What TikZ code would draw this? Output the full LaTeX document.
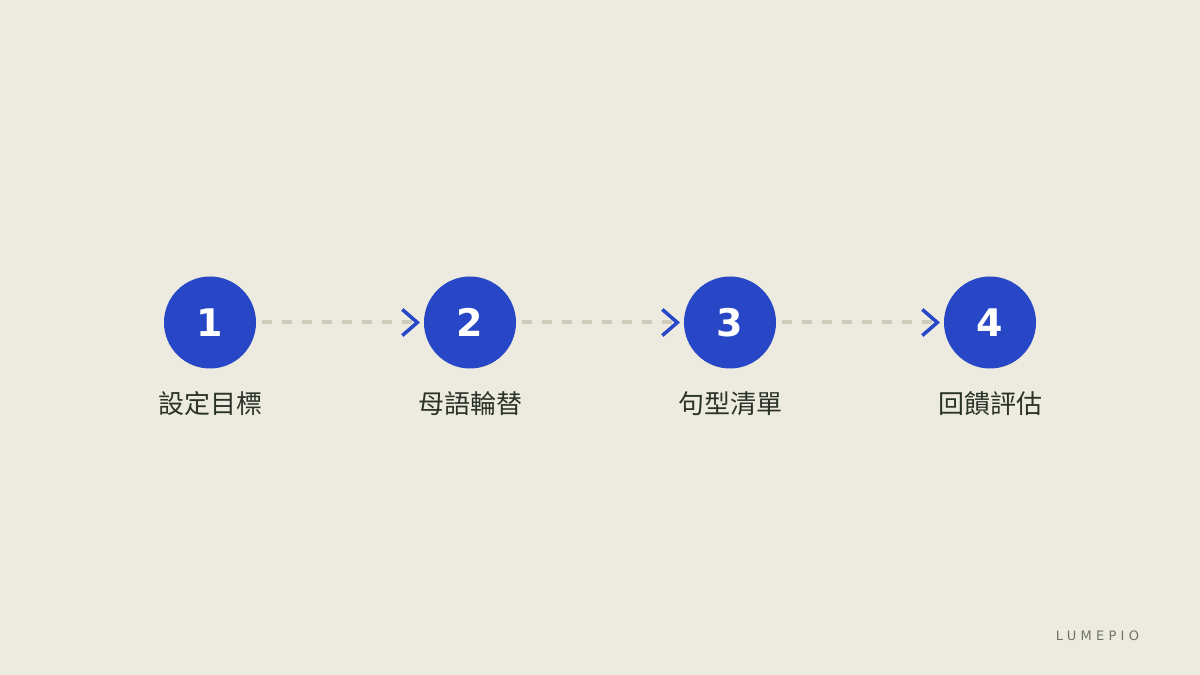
\documentclass[tikz,border=0pt]{standalone}
\usepackage{fontspec}
\setmainfont{DejaVu Sans}
\newfontfamily\cjk{Noto Sans CJK TC}
\newfontfamily\brand[LetterSpace=33]{DejaVu Sans}
\usetikzlibrary{positioning,arrows.meta}
\definecolor{paper}{HTML}{EDEBE0}
\definecolor{stageblue}{HTML}{2747C7}
\definecolor{dashgrey}{HTML}{D0CCBC}
\definecolor{ink}{HTML}{2B3328}
\definecolor{brandgrey}{HTML}{6E7565}
\tikzset{
  stage/.style={circle,fill=stageblue,text=white,minimum size=92pt,inner sep=0pt,
    outer sep=0pt,font=\fontsize{38}{38}\selectfont\bfseries},
  lbl/.style={text=ink,inner sep=0pt,font=\cjk\fontsize{26}{26}\selectfont},
  flow/.style={draw=dashgrey,line width=4pt,dash pattern=on 10pt off 10pt,
    shorten <=6pt,shorten >=4pt,
    -{Straight Barb[length=15pt,width=26pt,line width=3.5pt,color=stageblue]}},
}
\begin{document}
\begin{tikzpicture}[x=1pt,y=1pt]
\fill[paper] (0,0) rectangle (1200,675);
\useasboundingbox (0,0) rectangle (1200,675);
\node[stage] (s1) at (210,352.5) {1};
\node[stage,right=168pt of s1] (s2) {2};
\node[stage,right=168pt of s2] (s3) {3};
\node[stage,right=168pt of s3] (s4) {4};
\node[lbl,below=22.5pt of s1] (t1) {設定目標};
\node[lbl,below=22.5pt of s2] (t2) {母語輪替};
\node[lbl,below=22.5pt of s3] (t3) {句型清單};
\node[lbl,below=22.5pt of s4] (t4) {回饋評估};
\draw[flow] (s1) -- (s2);
\draw[flow] (s2) -- (s3);
\draw[flow] (s3) -- (s4);
\node[text=brandgrey,font=\brand\fontsize{13}{13}\selectfont] (brand) at (1097.5,39) {LUMEPIO};
\end{tikzpicture}
\end{document}
